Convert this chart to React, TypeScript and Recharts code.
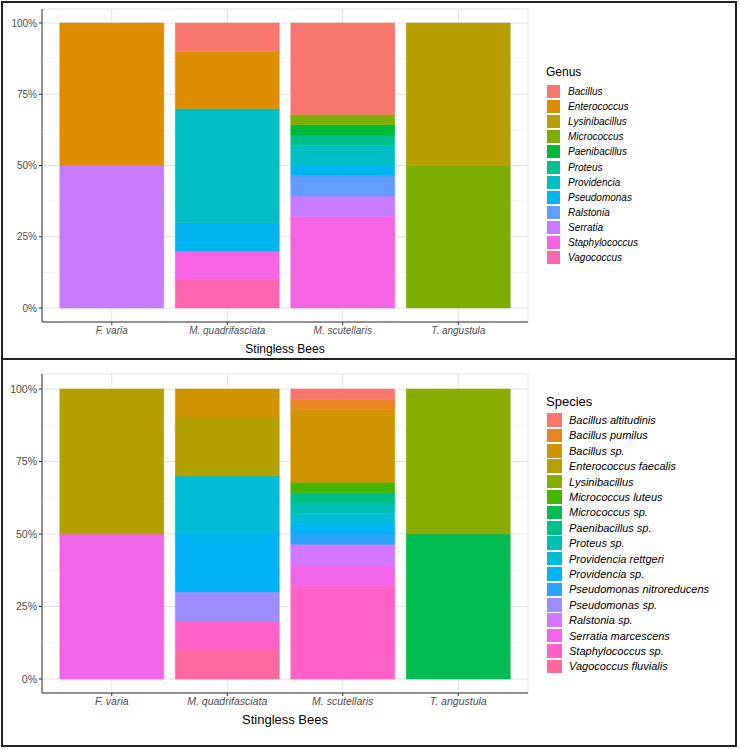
import { BarChart, Bar, XAxis, YAxis, CartesianGrid, Label } from "recharts";

const bees = ["F. varia", "M. quadrifasciata", "M. scutellaris", "T. angustula"];

const genusNames = [
	"Bacillus",
	"Enterococcus",
	"Lysinibacillus",
	"Micrococcus",
	"Paenibacillus",
	"Proteus",
	"Providencia",
	"Pseudomonas",
	"Ralstonia",
	"Serratia",
	"Staphylococcus",
	"Vagococcus",
];
const genusColors = [
	"#F8766D", "#DE8C00", "#B79F00", "#7CAE00", "#00BA38", "#00C08B",
	"#00BFC4", "#00B4F0", "#619CFF", "#C77CFF", "#F564E3", "#FF64B0",
];
// isolate counts per bee, in genus order
const genusFVaria = [0, 1, 0, 0, 0, 0, 0, 0, 0, 1, 0, 0];
const genusMQuad = [1, 2, 0, 0, 0, 0, 4, 1, 0, 0, 1, 1];
const genusMScut = [9, 0, 0, 1, 1, 1, 2, 1, 2, 2, 9, 0];
const genusTAng = [0, 0, 1, 1, 0, 0, 0, 0, 0, 0, 0, 0];

const speciesNames = [
	"Bacillus altitudinis",
	"Bacillus pumilus",
	"Bacillus sp.",
	"Enterococcus faecalis",
	"Lysinibacillus",
	"Micrococcus luteus",
	"Micrococcus sp.",
	"Paenibacillus sp.",
	"Proteus sp.",
	"Providencia rettgeri",
	"Providencia sp.",
	"Pseudomonas nitroreducens",
	"Pseudomonas sp.",
	"Ralstonia sp.",
	"Serratia marcescens",
	"Staphylococcus sp.",
	"Vagococcus fluvialis",
];
const speciesColors = [
	"#F8766D", "#E7851E", "#D09400", "#B2A100", "#89AC00", "#45B500",
	"#00BC51", "#00C087", "#00C0B2", "#00BCD6", "#00B3F2", "#29A3FF",
	"#9C8DFF", "#D277FF", "#F166E8", "#FF61C7", "#FF689E",
];
const speciesFVaria = [0, 0, 0, 1, 0, 0, 0, 0, 0, 0, 0, 0, 0, 0, 1, 0, 0];
const speciesMQuad = [0, 0, 1, 2, 0, 0, 0, 0, 0, 2, 2, 0, 1, 0, 0, 1, 1];
const speciesMScut = [1, 1, 7, 0, 0, 1, 0, 1, 1, 1, 1, 1, 0, 2, 2, 9, 0];
const speciesTAng = [0, 0, 0, 0, 1, 0, 1, 0, 0, 0, 0, 0, 0, 0, 0, 0, 0];

const majorTicks = [0, 0.25, 0.5, 0.75, 1];
const minorTicks = [0.125, 0.375, 0.625, 0.875];

const FONT = '"Liberation Sans", Arial, sans-serif';

function buildRows(names: string[], perBee: number[][]) {
	return bees.map((bee, i) => {
		const row: Record<string, any> = { bee };
		names.forEach((_, j) => {
			row[`k${j}`] = perBee[i][j];
		});
		return row;
	});
}

type PanelProps = {
	names: string[];
	colors: string[];
	counts: number[][];
	height: number;
	marginTop: number;
	marginBottom: number;
	padTop: number;
	padBottom: number;
	tickFont: number;
	titleFont: number;
};

function StackPanel(p: PanelProps) {
	const rows = buildRows(p.names, p.counts);
	const order = p.names.map((_, j) => j).reverse();
	return (
		<BarChart
			width={740}
			height={p.height}
			data={rows}
			stackOffset="expand"
			barCategoryGap="5%"
			margin={{ top: p.marginTop, right: 212, bottom: p.marginBottom, left: 8 }}
			style={{ fontFamily: FONT }}
		>
			<CartesianGrid stroke="#F2F2F2" vertical={false} horizontalValues={minorTicks} />
			<CartesianGrid stroke="#E2E2E2" />
			<XAxis
				dataKey="bee"
				height={36}
				interval={0}
				padding={{ left: 12, right: 12 }}
				tick={{ fontSize: p.tickFont, fill: "#4D4D4D", fontStyle: "italic" }}
				tickSize={3}
				tickMargin={2}
				axisLine={{ stroke: "#333" }}
				tickLine={{ stroke: "#333" }}
			>
				<Label value="Stingless Bees" position="insideBottom" offset={5} fill="#000" fontSize={p.titleFont} />
			</XAxis>
			<XAxis xAxisId="top" orientation="top" dataKey="bee" height={0} tick={false} tickLine={false} axisLine={{ stroke: "#999" }} />
			<YAxis
				domain={[0, 1]}
				ticks={majorTicks}
				tickFormatter={(v: number) => `${Math.round(v * 100)}%`}
				width={34}
				padding={{ top: p.padTop, bottom: p.padBottom }}
				tick={{ fontSize: p.tickFont, fill: "#4D4D4D" }}
				tickSize={3}
				tickMargin={2}
				axisLine={{ stroke: "#333" }}
				tickLine={{ stroke: "#333" }}
			/>
			<YAxis yAxisId="right" orientation="right" width={0} domain={[0, 1]} tick={false} tickLine={false} axisLine={{ stroke: "#999" }} />
			{order.map((j) => (
				<Bar
					key={j}
					dataKey={`k${j}`}
					name={p.names[j]}
					stackId="a"
					fill={p.colors[j]}
					stroke={p.colors[j]}
					strokeWidth={0.5}
					isAnimationActive={false}
				/>
			))}
		</BarChart>
	);
}

type LegendProps = {
	title: string;
	names: string[];
	colors: string[];
	left: number;
	titleTop: number;
	titleFont: number;
	rowsTop: number;
	rowH: number;
	keyW: number;
	keyH: number;
	labelLeft: number;
	font: number;
};

function KeyLegend(l: LegendProps) {
	return (
		<div style={{ position: "absolute", left: 0, top: 0 }}>
			<div style={{ position: "absolute", left: l.left, top: l.titleTop, fontSize: l.titleFont, lineHeight: `${l.titleFont + 2}px`, whiteSpace: "nowrap" }}>
				{l.title}
			</div>
			{l.names.map((n, j) => (
				<div key={n} style={{ position: "absolute", left: l.left + 1, top: l.rowsTop + j * l.rowH, height: l.rowH, display: "flex", alignItems: "center", whiteSpace: "nowrap" }}>
					<div style={{ width: l.keyW, height: l.keyH, background: l.colors[j] }} />
					<span style={{ marginLeft: l.labelLeft - l.left - 1 - l.keyW, fontSize: l.font, fontStyle: "italic" }}>{n}</span>
				</div>
			))}
		</div>
	);
}

export default function App() {
	const genusCounts = [genusFVaria, genusMQuad, genusMScut, genusTAng];
	const speciesCounts = [speciesFVaria, speciesMQuad, speciesMScut, speciesTAng];
	return (
		<div style={{ position: "absolute", left: 0, top: 0, width: 740, height: 750, background: "#fff", fontFamily: FONT, color: "#000" }}>
			<div style={{ position: "absolute", left: 0, top: 0 }}>
				<StackPanel
					names={genusNames}
					colors={genusColors}
					counts={genusCounts}
					height={358}
					marginTop={9}
					marginBottom={0}
					padTop={14}
					padBottom={14}
					tickFont={10}
					titleFont={12}
				/>
			</div>
			<div style={{ position: "absolute", left: 0, top: 358 }}>
				<StackPanel
					names={speciesNames}
					colors={speciesColors}
					counts={speciesCounts}
					height={392}
					marginTop={16}
					marginBottom={21}
					padTop={15}
					padBottom={14}
					tickFont={10.5}
					titleFont={13}
				/>
			</div>
			<KeyLegend
				title="Genus"
				names={genusNames}
				colors={genusColors}
				left={546}
				titleTop={65}
				titleFont={12}
				rowsTop={84}
				rowH={15.1}
				keyW={13}
				keyH={13}
				labelLeft={568}
				font={10}
			/>
			<KeyLegend
				title="Species"
				names={speciesNames}
				colors={speciesColors}
				left={546}
				titleTop={394}
				titleFont={13}
				rowsTop={412.3}
				rowH={15.4}
				keyW={15}
				keyH={13.5}
				labelLeft={569}
				font={11}
			/>
			<div style={{ position: "absolute", left: 1, top: 1, width: 736, height: 359, border: "2px solid #222", boxSizing: "border-box", pointerEvents: "none" }} />
			<div style={{ position: "absolute", left: 1, top: 358, width: 736, height: 389, border: "2px solid #222", boxSizing: "border-box", pointerEvents: "none" }} />
		</div>
	);
}
